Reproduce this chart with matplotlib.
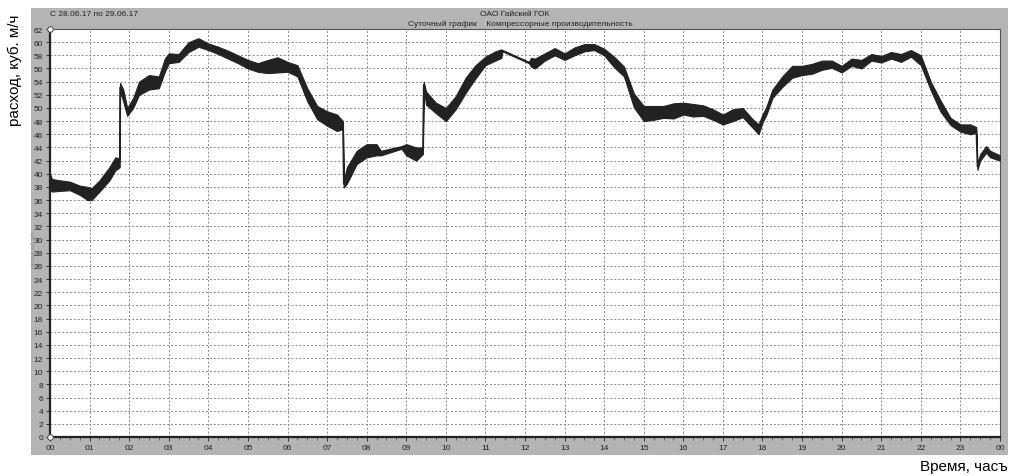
import numpy as np
import matplotlib
matplotlib.use('Agg')
import matplotlib.pyplot as plt
from matplotlib.patches import Rectangle

# time of day, hours
t = [0.00, 0.05, 0.25, 0.50, 0.75, 0.95, 1.05, 1.25, 1.50, 1.65, 1.76, 1.77, 1.85, 1.95,
     2.10, 2.25, 2.50, 2.75, 2.90, 3.00, 3.25, 3.50, 3.75, 4.00, 4.25, 4.50, 4.75, 5.00,
     5.25, 5.50, 5.75, 6.00, 6.25, 6.50, 6.75, 7.00, 7.25, 7.40, 7.42, 7.50, 7.75, 8.00,
     8.25, 8.36, 8.88, 9.00, 9.25, 9.42, 9.44, 9.50, 9.75, 10.00, 10.25, 10.50, 10.75,
     11.00, 11.25, 11.40, 11.43, 12.10, 12.15, 12.25, 12.50, 12.75, 13.00, 13.25, 13.50,
     13.75, 14.00, 14.25, 14.50, 14.75, 15.00, 15.25, 15.50, 15.75, 16.00, 16.25, 16.50,
     16.75, 17.00, 17.25, 17.50, 17.75, 17.90, 18.00, 18.10, 18.25, 18.50, 18.75, 19.00,
     19.25, 19.50, 19.75, 20.00, 20.25, 20.50, 20.75, 21.00, 21.25, 21.50, 21.75, 22.00,
     22.25, 22.50, 22.75, 23.00, 23.25, 23.40, 23.43, 23.50, 23.65, 23.75, 24.00]

# lower / upper edge of the noisy flow band, m3/h
flow_lo = [37.5, 37.3, 37.4, 37.5, 36.8, 36.0, 36.0, 37.3, 39.0, 40.5, 41.0, 52.5, 51.0, 48.8,
           50.0, 52.0, 52.8, 53.0, 55.5, 56.8, 57.0, 58.5, 59.3, 58.8, 58.2, 57.5, 56.8, 56.0,
           55.5, 55.3, 55.4, 55.5, 54.8, 51.0, 48.3, 47.3, 46.5, 46.8, 37.9, 38.5, 41.5, 42.5,
           42.8, 42.8, 43.8, 42.8, 42.0, 43.0, 53.0, 50.5, 49.2, 48.0, 49.8, 52.3, 54.5,
           56.5, 57.2, 57.6, 58.6, 56.8, 56.3, 56.0, 57.2, 58.0, 57.3, 58.0, 58.6,
           58.8, 58.0, 56.2, 54.8, 50.1, 48.0, 48.2, 48.5, 48.4, 49.0, 48.7, 48.8,
           48.2, 47.5, 48.0, 48.6, 47.0, 46.0, 47.8, 49.0, 51.5, 53.2, 54.6, 55.0,
           55.2, 55.8, 56.1, 55.4, 56.4, 56.0, 57.2, 56.9, 57.5, 57.0, 57.8, 56.5,
           52.7, 49.4, 47.4, 46.4, 46.0, 46.2, 40.6, 42.0, 43.2, 42.5, 42.0]
flow_hi = [40.0, 39.2, 39.0, 38.8, 38.2, 38.0, 37.8, 39.0, 41.0, 42.5, 42.3, 53.8, 52.8, 50.0,
           51.5, 54.0, 55.0, 54.8, 57.5, 58.3, 58.2, 60.0, 60.6, 59.8, 59.3, 58.7, 58.0, 57.3,
           56.8, 57.3, 57.7, 57.0, 56.5, 53.0, 50.3, 49.5, 49.0, 48.0, 39.0, 41.0, 43.5, 44.5,
           44.5, 43.5, 44.2, 44.5, 44.0, 44.0, 54.0, 52.5, 50.8, 50.0, 51.8, 54.6, 56.5,
           57.8, 58.6, 58.9, 58.8, 57.0, 57.6, 57.5, 58.3, 59.1, 58.3, 59.2, 59.7,
           59.7, 59.0, 57.8, 56.3, 52.2, 50.3, 50.3, 50.3, 50.7, 50.8, 50.6, 50.4,
           49.8, 49.0, 49.8, 50.0, 48.3, 47.5, 49.0, 50.2, 52.8, 54.8, 56.4, 56.4,
           56.7, 57.2, 57.2, 56.4, 57.5, 57.3, 58.2, 57.9, 58.5, 58.2, 58.8, 58.0,
           54.0, 51.1, 48.5, 47.5, 47.5, 47.1, 41.5, 43.0, 44.2, 43.5, 42.8]

hour_labels = ['%02d' % (h % 24) for h in range(25)]
y_ticks = list(range(0, 63, 2))

font = ['Liberation Sans', 'DejaVu Sans']
plt.rcParams['font.family'] = font

fig = plt.figure(figsize=(10.10, 4.77), dpi=100)
W, H = 1010, 477

# grey chart panel
fig.patches.append(Rectangle((31 / W, 1 - 456 / H), 977 / W, 447 / H, transform=fig.transFigure,
                             facecolor='#b4b4b4', edgecolor='none', zorder=-1))

ax = fig.add_axes([50 / W, 1 - 438 / H, 950 / W, 408 / H])
ax.set_zorder(1)
ax.set_facecolor('white')

lo = np.array(flow_lo)
hi = np.array(flow_hi)
ax.fill_between(t, lo, hi, color='#222222', linewidth=0.8, edgecolor='#222222', zorder=3)
ax.plot(t, (lo + hi) / 2, color='#222222', linewidth=1.1, zorder=3)

ax.set_xlim(0, 24)
ax.set_ylim(0, 62)
ax.set_xticks(range(25))
ax.set_xticklabels(hour_labels)
ax.set_xticks(np.arange(0, 24.01, 0.25), minor=True)
ax.set_yticks(y_ticks)
ax.set_yticklabels([str(v) for v in y_ticks])
ax.tick_params(axis='both', labelsize=6, colors='#222222', length=3, width=0.6, pad=2)
ax.tick_params(axis='x', which='minor', length=2, width=0.5, color='#444444')
ax.grid(True, which='major', color='#888888', linestyle=(0, (2, 2)), linewidth=0.7)

for s in ['left', 'bottom']:
    ax.spines[s].set_color('#222222')
    ax.spines[s].set_linewidth(1.6)
for s in ['top', 'right']:
    ax.spines[s].set_color('#555555')
    ax.spines[s].set_linewidth(0.8)

ax.plot([0, 0], [0, 62], 'o', markersize=4, markerfacecolor='white', markeredgecolor='#444444',
        markeredgewidth=0.7, clip_on=False, zorder=5)

# headers
fig.text(50 / W, 1 - 14 / H, 'С 28.06.17 по 29.06.17', fontsize=6, color='#222222', va='center')
fig.text(515 / W, 1 - 14 / H, 'ОАО Гайский ГОК', fontsize=6, color='#222222', ha='center', va='center')
fig.text(520 / W, 1 - 24 / H, 'Суточный график    Компрессорные производительность', fontsize=6,
         color='#222222', ha='center', va='center')

fig.text(15 / W, 1 - 70 / H, 'расход, куб. м/ч', fontsize=11, rotation=90, ha='center', va='center')
fig.text(33 / W, 1 - 250 / H, 'расход, куб. м/ч', fontsize=3.5, color='#888888', rotation=90,
         ha='center', va='center')
fig.text(1008 / W, 1 - 467 / H, 'Время, часъ', fontsize=11, ha='right', va='center')

fig.savefig('out.png', dpi=100)
